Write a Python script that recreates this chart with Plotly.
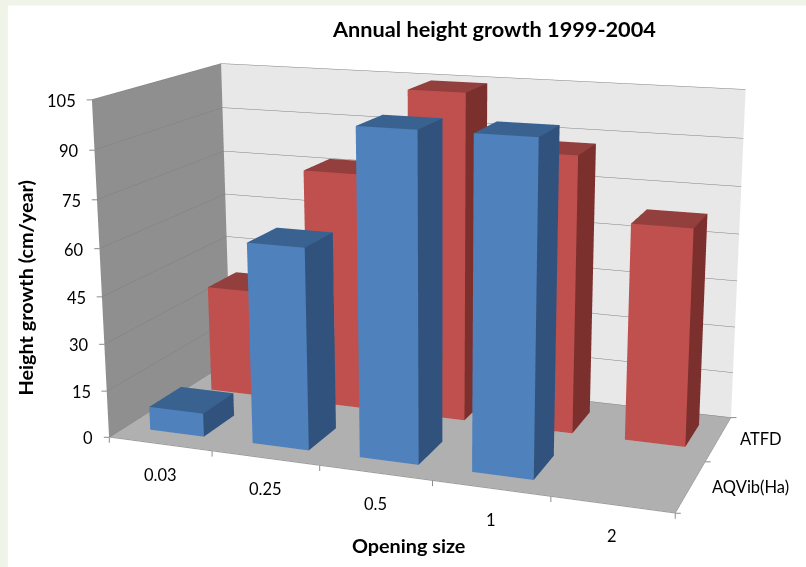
import plotly.graph_objects as go

categories = ["0.03", "0.25", "0.5", "1", "2"]
series_names = ["AQVib(Ha)", "ATFD"]
aqvib = [7.5, 63, 100, 100, None]
atfd = [35.5, 77, 104.5, 87.5, 68]
z_ticks = [0, 15, 30, 45, 60, 75, 90, 105]

W, H = 806, 567
# The scene is drawn on a larger canvas and placed so its middle fills the window;
# this gives the weaker perspective of the original chart.
S = 2.5
EYE = dict(x=1.5192, y=-4.1121, z=1.1230)
UP = dict(x=-0.08386, y=0.23358, z=0.96871)
ASPECT = dict(x=1.5294, y=0.7202, z=0.9079)
PX, PY = 424.7, 264.4
left, top = PX - S * W / 2, PY - S * H / 2

BLUE = ("#4f81bd", "#3a6291", "#31527c")
RED = ("#c0504d", "#933f3d", "#7b302e")
BAR_W, BAR_D, BAR_SHIFT = 0.53, 0.5, 0.005
TICK = "#8c8c8c"


def bar(ix, iy, val, cols, name):
    x0, x1 = ix + BAR_SHIFT - BAR_W / 2, ix + BAR_SHIFT + BAR_W / 2
    y0, y1 = iy - BAR_D / 2, iy + BAR_D / 2
    xs = [x0, x1, x1, x0, x0, x1, x1, x0]
    ys = [y0, y0, y1, y1, y0, y0, y1, y1]
    zs = [0, 0, 0, 0, val, val, val, val]
    i = [0, 0, 4, 4, 1, 1, 0, 0, 3, 3, 2, 2]
    j = [1, 2, 5, 6, 2, 6, 1, 5, 2, 6, 3, 7]
    k = [2, 3, 6, 7, 6, 5, 5, 4, 6, 7, 7, 6]
    fc = [cols[0]] * 2 + [cols[1]] * 2 + [cols[2]] * 2 + [cols[0]] * 2 + [cols[0]] * 2 + [cols[2]] * 2
    return go.Mesh3d(x=xs, y=ys, z=zs, i=i, j=j, k=k, facecolor=fc, flatshading=True, name=name,
                     lighting=dict(ambient=1, diffuse=0, specular=0, roughness=1, fresnel=0),
                     hoverinfo="skip", showscale=False)


fig = go.Figure()
for iy, (vals, cols, nm) in reversed(list(enumerate([(aqvib, BLUE, series_names[0]), (atfd, RED, series_names[1])]))):
    for ix, v in enumerate(vals):
        if v is not None:
            fig.add_trace(bar(ix, iy, v, cols, nm))


def X(x):
    return (x - left) / (S * W)


def Y(y):
    return 1 - (y - top) / (S * H)


tick_font = dict(family="Lato", size=16.5, color="#000000")
scene_ann = []
for ix, lab in enumerate(categories):
    scene_ann.append(dict(x=ix, y=-0.5, z=0, text=lab, showarrow=False, font=tick_font, xshift=0, yshift=-31))
for iy, lab in enumerate(series_names):
    scene_ann.append(dict(x=4.5, y=iy, z=0, text=lab, showarrow=False, font=tick_font, xanchor="left", xshift=19, yshift=0))
for v in z_ticks:
    scene_ann.append(dict(x=-0.5, y=-0.5, z=v * 0.999, text=str(v), showarrow=False, font=tick_font, xanchor="right", xshift=-14, yshift=-1))
    scene_ann.append(dict(x=-0.5, y=-0.5, z=v * 0.999, text="", showarrow=True, arrowhead=0, arrowwidth=1, arrowcolor=TICK, ax=-7, ay=0, standoff=0))
for b in [-0.5, 0.5, 1.5, 2.5, 3.5, 4.5]:
    scene_ann.append(dict(x=b, y=-0.5, z=0, text="", showarrow=True, arrowhead=0, arrowwidth=1, arrowcolor=TICK, ax=0, ay=7, standoff=0))
for b in [-0.5, 0.5, 1.5]:
    scene_ann.append(dict(x=4.5, y=b, z=0, text="", showarrow=True, arrowhead=0, arrowwidth=1, arrowcolor=TICK, ax=7, ay=0, standoff=0))

common = dict(showspikes=False, zeroline=False, title=dict(text=""), showticklabels=False, ticks="",
              showline=True, linecolor=TICK, linewidth=1)
center = dict(xref="paper", yref="paper", showarrow=False, xanchor="center", yanchor="middle")
fig.update_layout(
    width=S * W, height=S * H, margin=dict(l=0, r=0, t=0, b=0), paper_bgcolor="#ffffff", showlegend=False,
    shapes=[
        dict(type="rect", xref="paper", yref="paper", x0=0, x1=X(8), y0=0, y1=1, fillcolor="#f0f3e8", line_width=0, layer="below"),
        dict(type="rect", xref="paper", yref="paper", x0=0, x1=1, y0=Y(5), y1=1, fillcolor="#f0f3e8", line_width=0, layer="below"),
    ],
    annotations=[
        dict(text="<b>Annual height growth 1999-2004</b>", x=X(494.5), y=Y(28), font=dict(family="Lato", size=21.7, color="#000"), **center),
        dict(text="<b>Opening size</b>", x=X(409), y=Y(544), font=dict(family="Lato", size=19.8, color="#000"), **center),
        dict(text="<b>Height growth (cm/year)</b>", x=X(25), y=Y(287), textangle=-90, font=dict(family="Lato", size=19.8, color="#000"), **center),
    ],
    scene=dict(
        domain=dict(x=[0, 1], y=[0, 1]),
        aspectmode="manual", aspectratio=ASPECT,
        camera=dict(eye=EYE, center=dict(x=0, y=0, z=0), up=UP, projection=dict(type="perspective")),
        annotations=scene_ann,
        xaxis=dict(range=[-0.5, 4.5], showgrid=False, showbackground=True, backgroundcolor="#8f8f8f", **common),
        yaxis=dict(range=[-0.5, 1.5], showgrid=False, showbackground=True, backgroundcolor="#e8e8e8", **common),
        zaxis=dict(range=[0, 105], tickvals=z_ticks, showgrid=True, gridcolor="#808080", gridwidth=1,
                   showbackground=True, backgroundcolor="#b0b0b0", **common),
    ),
)
post = ("document.documentElement.style.overflow='hidden';document.body.style.overflow='hidden';document.body.style.margin='0';"
        "var g=document.getElementsByClassName('plotly-graph-div')[0];"
        f"g.style.position='absolute';g.style.left='{left:.1f}px';g.style.top='{top:.1f}px';")
fig.write_html("out.html", post_script=post, config=dict(displayModeBar=False))
